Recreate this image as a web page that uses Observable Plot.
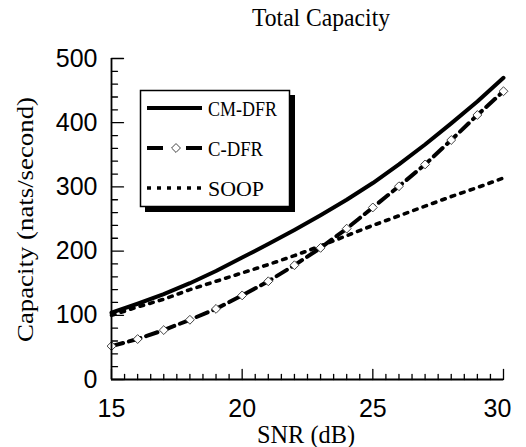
<!DOCTYPE html>
<html>
<head>
<meta charset="utf-8">
<script src="https://cdn.jsdelivr.net/npm/d3@7"></script>
<script src="https://cdn.jsdelivr.net/npm/@observablehq/plot@0.6"></script>
<style>
  html, body { margin: 0; padding: 0; background: white; }
  #chart { position: relative; width: 526px; height: 447px; }
  .serif-text { font-family: 'Liberation Serif', 'Times New Roman', serif !important; }
</style>
</head>
<body>
<div id="chart"></div>
<script>
// ---- data ----
const snr   = [15, 16, 17, 18, 19, 20, 21, 22, 23, 24, 25, 26, 27, 28, 29, 30];
const cmdfr = [104, 118, 133, 150, 169, 190, 211, 233, 256, 280, 306, 335, 366, 399, 433, 470];
const cdfr  = [52, 63, 77, 93, 110, 131, 153, 178, 205, 235, 268, 301, 335, 373, 412, 449];
const soop  = [100, 113, 125, 140, 153, 166, 179, 193, 208, 224, 240, 255, 270, 285, 299, 314];
const seriesNames = ["CM-DFR", "C-DFR", "SOOP"];
const xTicks = [15, 20, 25, 30];
const yTicks = [0, 100, 200, 300, 400, 500];
const titleText = "Total Capacity";
const xLabel = "SNR (dB)";
const yLabel = "Capacity (nats/second)";

const rows = snr.map((x, i) => ({x, cm: cmdfr[i], c: cdfr[i], s: soop[i]}));
const xMinor = d3.range(15, 30.001, 0.5).filter(v => !xTicks.includes(v));
const yMinor = d3.range(0, 500.001, 20).filter(v => !yTicks.includes(v));

const serif = "'Liberation Serif', 'Times New Roman', serif";
const sans = "'Liberation Sans', Arial, sans-serif";
const tickShape = {draw(context, l) { context.moveTo(0, 0); context.lineTo(0, -l); }};

const styles = {
  "CM-DFR": {strokeWidth: 4, strokeDasharray: null},
  "C-DFR": {strokeWidth: 4, strokeDasharray: "12,6"},
  "SOOP": {strokeWidth: 3.6, strokeDasharray: "3.6,6.4"}
};

const svg = Plot.plot({
  width: 526,
  height: 447,
  marginLeft: 111,
  marginRight: 23,
  marginTop: 58,
  marginBottom: 68,
  style: {background: "white", color: "black", overflow: "visible"},
  x: {domain: [15, 30]},
  y: {domain: [0, 500]},
  marks: [
    Plot.line(rows, {x: "x", y: "s", stroke: "black", strokeWidth: styles.SOOP.strokeWidth, strokeDasharray: styles.SOOP.strokeDasharray}),
    Plot.line(rows, {x: "x", y: "c", stroke: "black", strokeWidth: styles["C-DFR"].strokeWidth, strokeDasharray: styles["C-DFR"].strokeDasharray}),
    Plot.line(rows, {x: "x", y: "cm", stroke: "black", strokeWidth: styles["CM-DFR"].strokeWidth}),
    Plot.dot(rows, {x: "x", y: "c", symbol: "diamond2", r: 4, fill: "white", stroke: "#444", strokeWidth: 1}),
    // axis lines
    Plot.ruleX([15], {stroke: "black", strokeWidth: 1.8}),
    Plot.ruleY([0], {stroke: "black", strokeWidth: 1.8}),
    // inward ticks
    Plot.vector(yTicks, {y: d => d, frameAnchor: "left", rotate: 90, length: 12, anchor: "start", shape: tickShape, stroke: "black", strokeWidth: 1.3}),
    Plot.vector(yMinor, {y: d => d, frameAnchor: "left", rotate: 90, length: 6, anchor: "start", shape: tickShape, stroke: "black", strokeWidth: 1.3}),
    Plot.vector(xTicks, {x: d => d, frameAnchor: "bottom", rotate: 0, length: 10, anchor: "start", shape: tickShape, stroke: "black", strokeWidth: 1.3}),
    Plot.vector(xMinor, {x: d => d, frameAnchor: "bottom", rotate: 0, length: 5, anchor: "start", shape: tickShape, stroke: "black", strokeWidth: 1.3}),
    // tick labels
    Plot.axisY({ticks: yTicks, tickSize: 0, tickPadding: 14, fontSize: 25, fontFamily: sans, fill: "black", label: null}),
    Plot.axisX({ticks: xTicks.slice(0, -1), tickSize: 0, tickPadding: 20, fontSize: 25, fontFamily: sans, fill: "black", label: null}),
    Plot.axisX({ticks: xTicks.slice(-1), tickSize: 0, tickPadding: 20, fontSize: 25, fontFamily: sans, fill: "black", label: null, dx: -6})
  ]
});

const s = d3.select(svg);

// title and axis labels
s.append("text").text(titleText).attr("class", "serif-text")
  .attr("x", 321).attr("y", 26).attr("text-anchor", "middle")
  .attr("font-size", 25).attr("fill", "black")
  .attr("textLength", 138).attr("lengthAdjust", "spacingAndGlyphs");
s.append("text").text(xLabel).attr("class", "serif-text")
  .attr("x", 306).attr("y", 443).attr("text-anchor", "middle")
  .attr("font-size", 25).attr("fill", "black")
  .attr("textLength", 98).attr("lengthAdjust", "spacingAndGlyphs");
s.append("text").text(yLabel).attr("class", "serif-text")
  .attr("transform", "translate(33,219.5) rotate(-90)").attr("text-anchor", "middle")
  .attr("font-size", 23).attr("fill", "black")
  .attr("textLength", 245).attr("lengthAdjust", "spacingAndGlyphs");

// legend
const lg = s.append("g").attr("text-anchor", "start");
lg.append("rect").attr("x", 145).attr("y", 95).attr("width", 150).attr("height", 117).attr("fill", "black");
lg.append("rect").attr("x", 140.5).attr("y", 90.5).attr("width", 149).attr("height", 116)
  .attr("fill", "white").attr("stroke", "black").attr("stroke-width", 1.5);
const legendDash = {"CM-DFR": null, "C-DFR": "16,23", "SOOP": "4,6"};
seriesNames.forEach((name, i) => {
  const y = 108 + i * 40;
  lg.append("line").attr("x1", 147).attr("x2", 202).attr("y1", y).attr("y2", y)
    .attr("stroke", "black").attr("stroke-width", styles[name].strokeWidth)
    .attr("stroke-dasharray", legendDash[name]);
  if (name === "C-DFR") {
    lg.append("path").attr("d", d3.symbol(d3.symbolDiamond2, Math.PI * 16)())
      .attr("transform", `translate(176,${y})`).attr("fill", "white").attr("stroke", "#444").attr("stroke-width", 1);
  }
  const w = {"CM-DFR": 69, "C-DFR": 55, "SOOP": 56}[name];
  lg.append("text").text(name).attr("class", "serif-text")
    .attr("x", 208).attr("y", y + 7.5).attr("text-anchor", "start")
    .attr("font-size", 21).attr("fill", "black")
    .attr("textLength", w).attr("lengthAdjust", "spacingAndGlyphs");
});

document.getElementById("chart").appendChild(svg);
</script>
</body>
</html>
